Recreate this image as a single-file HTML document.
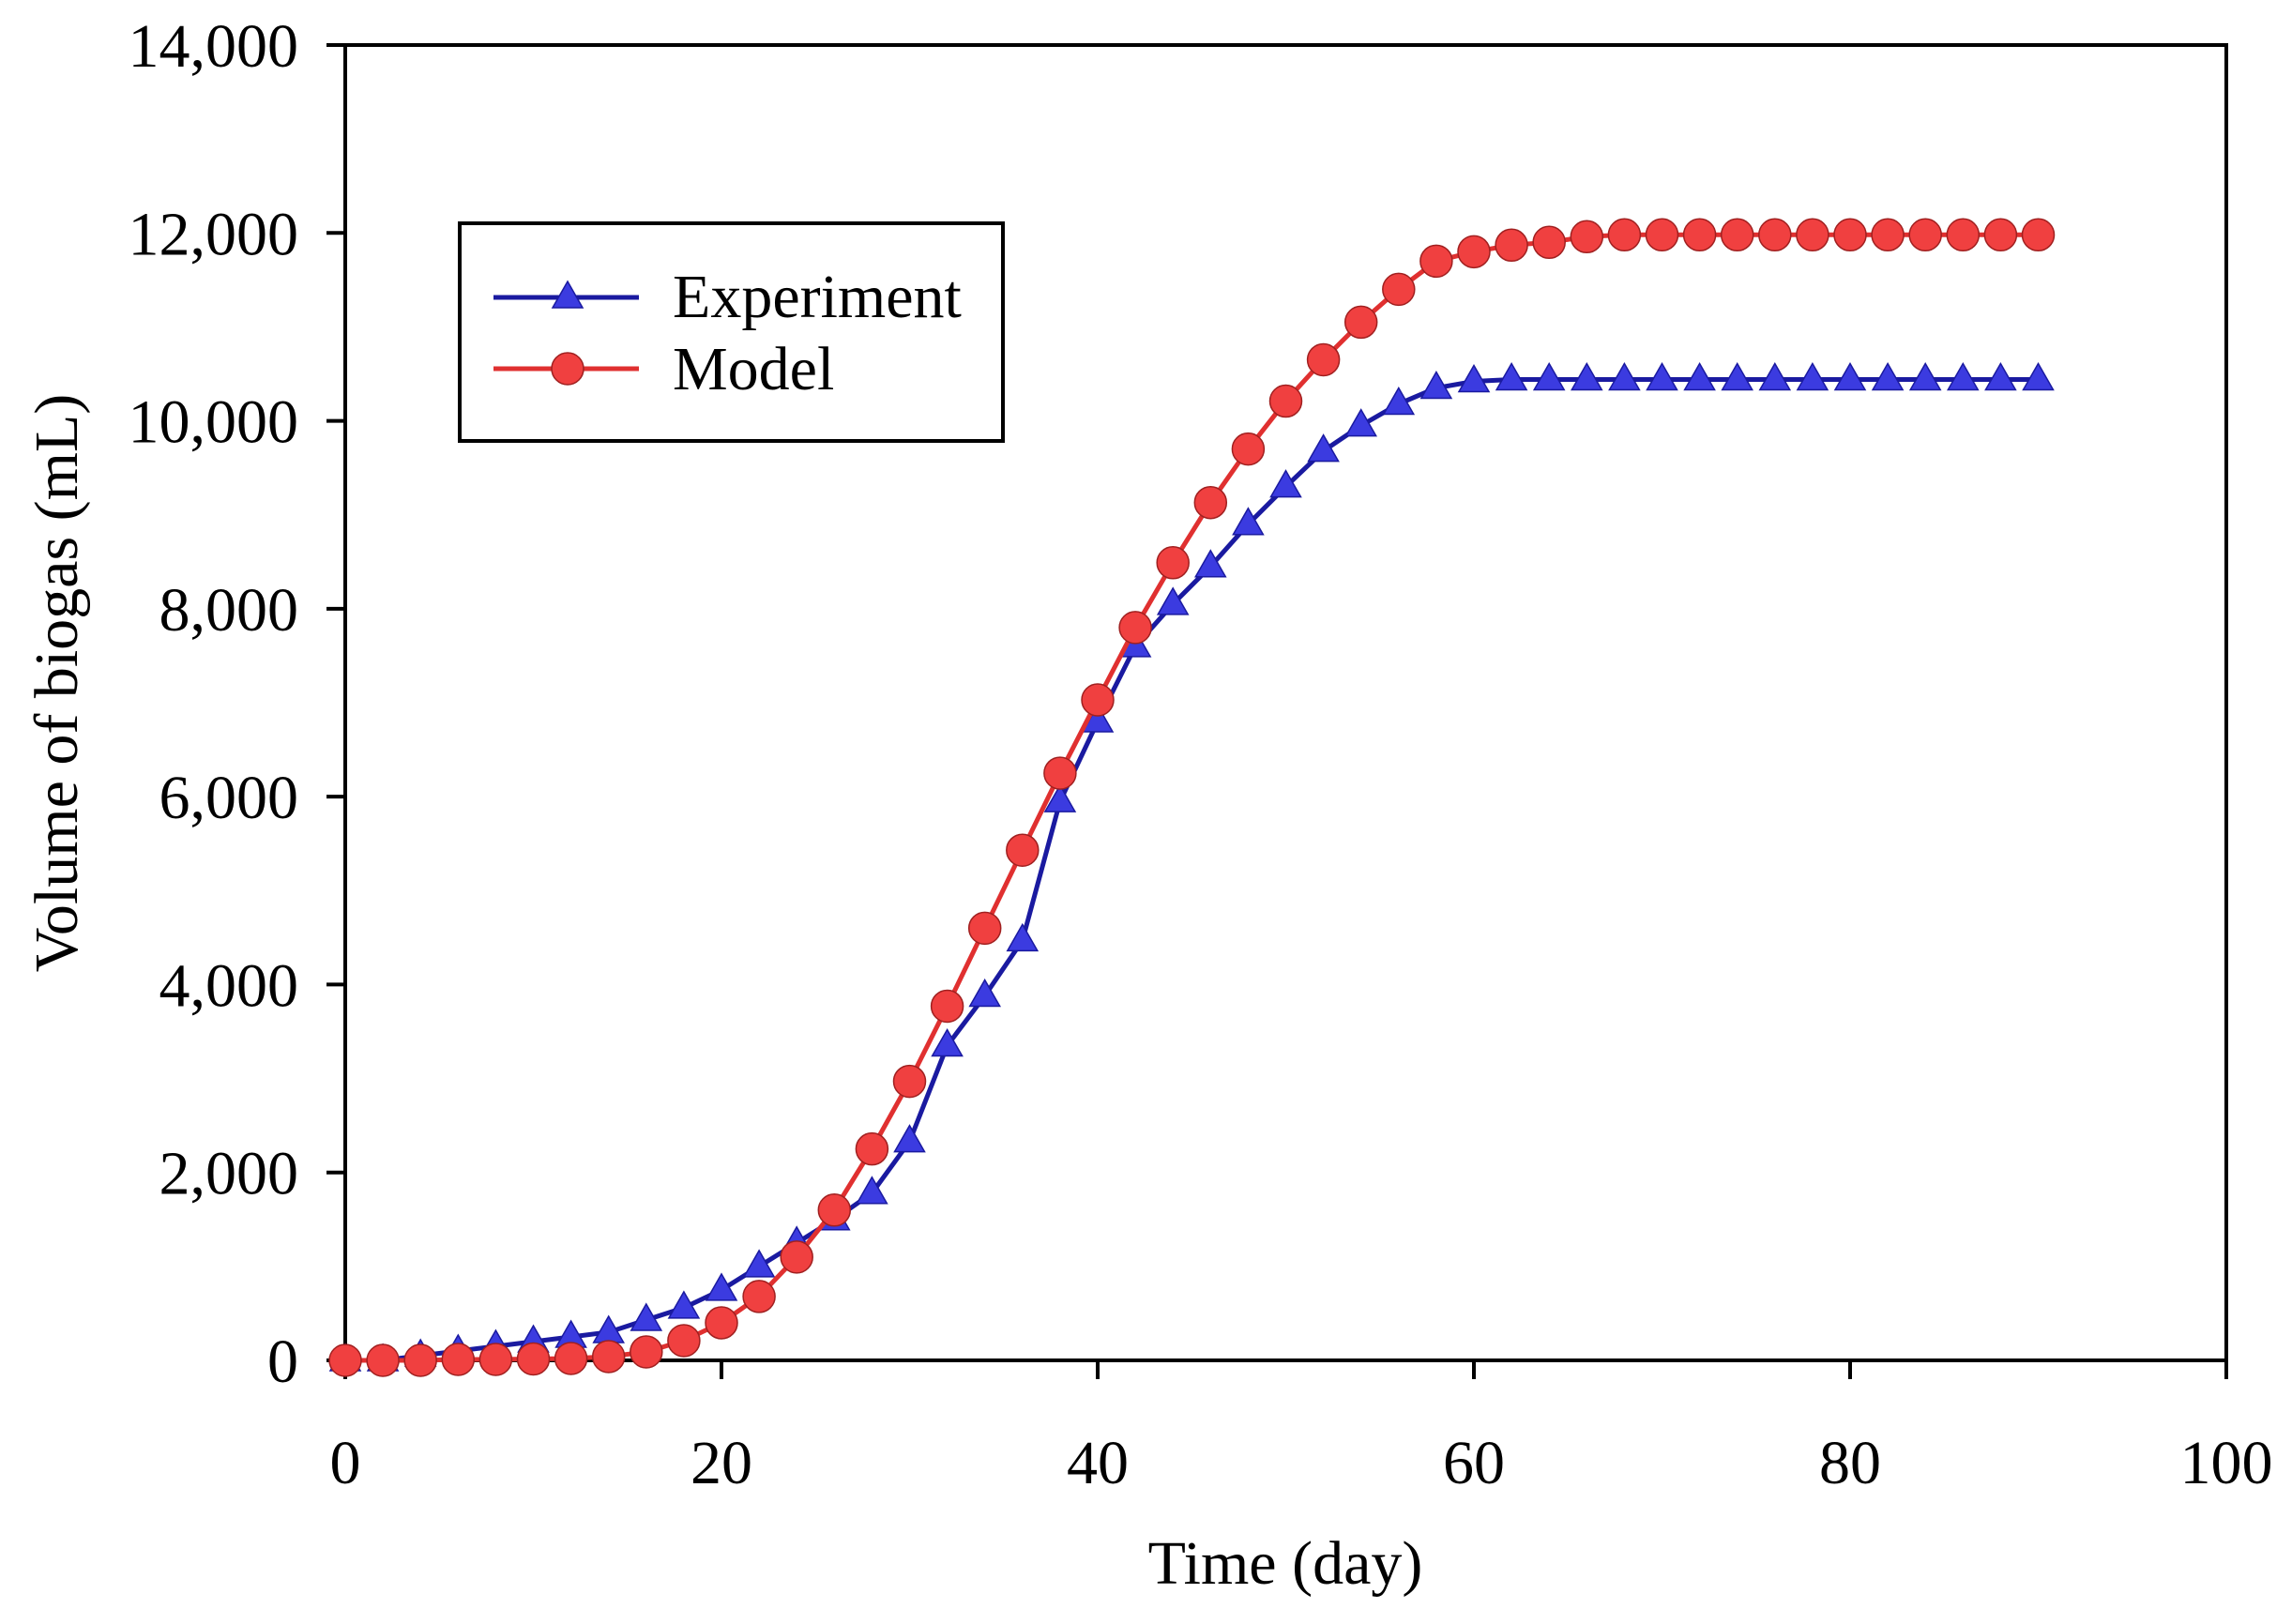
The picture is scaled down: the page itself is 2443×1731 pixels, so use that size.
<!DOCTYPE html>
<html><head><meta charset="utf-8"><style>
html,body{margin:0;padding:0;background:#fff;}
svg{display:block;font-family:"Liberation Serif",serif;}
</style></head><body>
<svg id="chart" width="2443" height="1731" viewBox="0 0 2443 1731" xmlns="http://www.w3.org/2000/svg">
<rect x="0" y="0" width="2443" height="1731" fill="#fff"/>
<g id="axes"></g>
<g id="series"></g>
<g>
<rect x="490" y="238" width="579" height="232" fill="#fff" stroke="#000" stroke-width="4"/>
<g>
<line x1="526" y1="317" x2="681" y2="317" stroke="#1a1aa0" stroke-width="5"/>
<polygon points="605,300 621,328 589,328" fill="#3b3be0" stroke="#1a1aa0" stroke-width="1.5"/>
<text x="717" y="338" font-size="66">Experiment</text>
</g>
<g>
<line x1="526" y1="393" x2="681" y2="393" stroke="#e03030" stroke-width="5"/>
<circle cx="605" cy="393" r="17" fill="#f04040" stroke="#a02020" stroke-width="1.5"/>
<text x="717" y="415" font-size="66">Model</text>
</g>
</g>
<text x="1370" y="1688" font-size="66" text-anchor="middle">Time (day)</text>
<text transform="translate(82,728) rotate(-90)" font-size="66" text-anchor="middle">Volume of biogas (mL)</text>
</svg>
<script>
const days = [0,2,4,6,8,10,12,14,16,18,20,22,24,26,28,30,32,34,36,38,40,42,44,46,48,50,52,54,56,58,60,62,64,66,68,70,72,74,76,78,80,82,84,86,88,90];
const experiment = [0,0,50,100,150,200,250,300,430,560,750,1000,1250,1500,1780,2330,3350,3880,4470,5950,6800,7600,8050,8450,8900,9300,9680,9950,10180,10350,10420,10440,10440,10440,10440,10440,10440,10440,10440,10440,10440,10440,10440,10440,10440,10440];
const model = [0,0,0,10,10,15,20,40,90,210,400,680,1100,1600,2250,2970,3770,4600,5430,6250,7030,7800,8490,9130,9700,10210,10650,11050,11400,11700,11800,11870,11900,11960,11980,11980,11980,11980,11980,11980,11980,11980,11980,11980,11980,11980];
const xTicks = [0,20,40,60,80,100];
const yTicks = [0,2000,4000,6000,8000,10000,12000,14000];
const yTickLabels = ["0","2,000","4,000","6,000","8,000","10,000","12,000","14,000"];

const X0=368,X1=2373,Y0=1450,Y1=48;
const xs=t=>X0+(t/100)*(X1-X0);
const ys=v=>Y0-(v/14000)*(Y0-Y1);
const NS="http://www.w3.org/2000/svg";
function mk(tag,attrs,parent){const e=document.createElementNS(NS,tag);for(const k in attrs)e.setAttribute(k,attrs[k]);parent.appendChild(e);return e;}
const axes=document.getElementById('axes');
const frame=mk('rect',{x:X0,y:Y1,width:X1-X0,height:Y0-Y1,fill:'none',stroke:'#000','stroke-width':4},axes);


xTicks.forEach(t=>{
  const l=mk('line',{x1:xs(t),x2:xs(t),y1:Y0,y2:Y0+20,stroke:'#000','stroke-width':4},axes);
  
  
  const tx=mk('text',{x:xs(t),y:1581,'font-size':66,'text-anchor':'middle'},axes);
  tx.textContent=t;
  
  
});
yTicks.forEach((v,i)=>{
  const l=mk('line',{x1:X0-20,x2:X0,y1:ys(v),y2:ys(v),stroke:'#000','stroke-width':4},axes);
  
  
  const tx=mk('text',{x:318,y:ys(v)+23,'font-size':66,'text-anchor':'end'},axes);
  tx.textContent=yTickLabels[i];
  
  
});
const ser=document.getElementById('series');
const gE=mk('g',{},ser);


const pe=mk('polyline',{points:days.map((d,i)=>xs(d)+','+ys(experiment[i])).join(' '),fill:'none',stroke:'#1a1aa0','stroke-width':5},gE);


const gM=mk('g',{},ser);


const pm=mk('polyline',{points:days.map((d,i)=>xs(d)+','+ys(model[i])).join(' '),fill:'none',stroke:'#e03030','stroke-width':5},gM);


days.forEach((d,i)=>{
  const x=xs(d),y=ys(experiment[i]);
  const p=mk('polygon',{points:`${x},${y-17} ${x+16},${y+11} ${x-16},${y+11}`,fill:'#3b3be0',stroke:'#1a1aa0','stroke-width':1.5},gE);
  
  
});
days.forEach((d,i)=>{
  const c=mk('circle',{cx:xs(d),cy:ys(model[i]),r:17,fill:'#f04040',stroke:'#a02020','stroke-width':1.5},gM);
  
  
});
</script>
</body></html>
